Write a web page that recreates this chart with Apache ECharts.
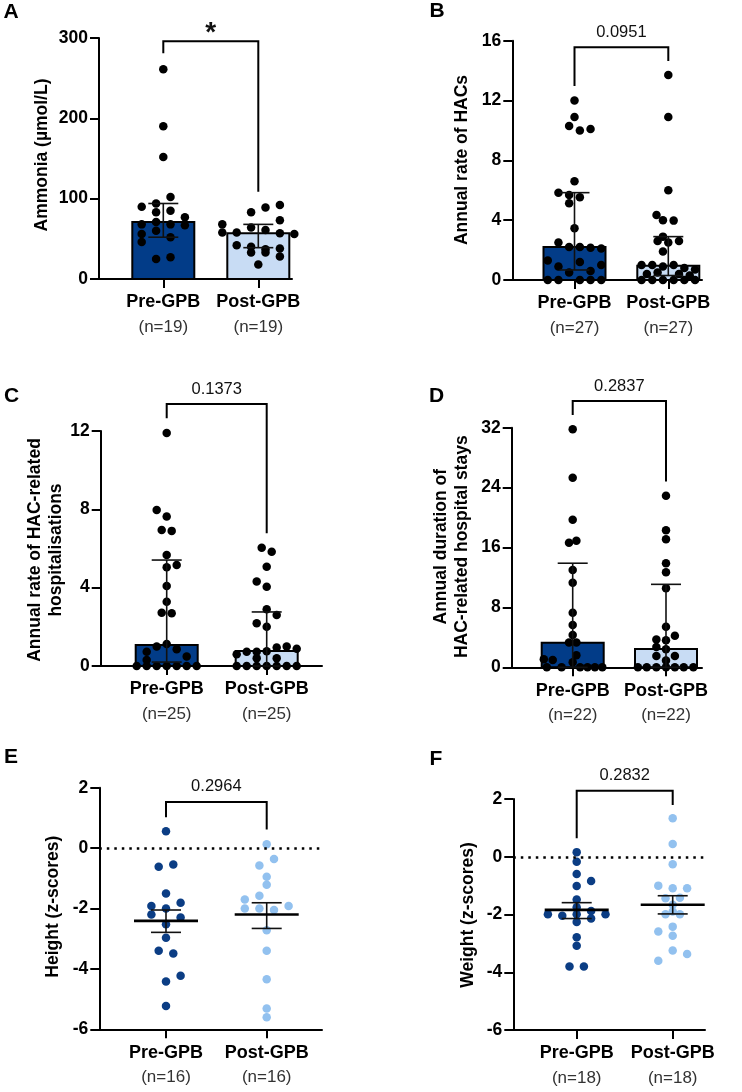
<!DOCTYPE html>
<html>
<head>
<meta charset="utf-8">
<script src="https://cdn.jsdelivr.net/npm/echarts@6/dist/echarts.min.js"></script>
<style>
  html, body { margin: 0; padding: 0; background: #fff; }
  #chart { width: 742px; height: 1092px; }
</style>
</head>
<body>
<div id="chart"></div>
<script>
const GROUPS = ['Pre-GPB', 'Post-GPB'];

// each point is [swarm column, value]

// A - ammonia
const ammoniaTicks = [0, 100, 200, 300];
const ammoniaN = [19, 19];
const ammoniaMedian = [71, 57];
const ammoniaIqr = [[52, 94], [39, 68]];
const ammoniaPre = [[0, 261], [0, 190], [0, 152], [0.5, 102], [-0.5, 94], [-1.5, 90], [-0.5, 83], [0.5, 85],
  [1.5, 77], [-1.5, 68], [-0.5, 71], [0.5, 68], [1.5, 67], [-0.5, 60], [0.5, 52], [-1.5, 46], [-1.5, 56],
  [-0.5, 25], [0.5, 27]];
const ammoniaPost = [[1.5, 92], [0.5, 89], [-0.5, 83], [1.5, 73], [-2.5, 68], [-0.5, 64], [0.5, 61], [-2.5, 58],
  [-1.5, 58], [1.5, 57], [2.5, 56], [-1.5, 42], [-0.5, 40], [1.5, 38], [0.5, 37], [-0.5, 33], [0.5, 33],
  [1.5, 28], [0, 18]];
const ammoniaBracket = [281, 296, 108.6];

// B - annual rate of HACs
const hacTicks = [0, 4, 8, 12, 16];
const hacN = [27, 27];
const hacMedian = [2.2, 0.96];
const hacIqr = [[0.67, 5.84], [0.3, 2.9]];
const hacPre = [[0, 12], [0, 10.9], [-0.5, 10.3], [0.5, 10.0], [1.5, 10.1], [0, 6.6], [-1.5, 5.84], [-0.5, 5.68],
  [0.5, 5.53], [-0.5, 5.13], [0, 3.46], [-1.5, 2.5], [-0.5, 2.2], [0.5, 2.2], [1.5, 2.15], [2.5, 2.1],
  [-2.5, 1.3], [-1.5, 0.9], [0.5, 1.2], [2.5, 1.0], [-0.5, 0.5], [1.5, 0.6], [-2.5, 0], [-1.5, 0], [0.5, 0],
  [1.5, 0], [2.5, 0]];
const hacPost = [[0, 13.7], [0, 10.9], [0, 6.0], [-1.1, 4.34], [-0.5, 4.0], [0.5, 3.97], [-0.5, 2.9], [-1, 2.6],
  [0, 2.5], [1, 2.6], [-0.5, 1.9], [-2.5, 1.0], [-1.5, 1.0], [-0.5, 0.9], [0.5, 1.0], [1.5, 0.8], [2.5, 0.7],
  [-2, 0.4], [-1, 0.5], [1, 0.4], [2, 0.3], [-2.5, 0], [-1.5, 0], [-0.5, 0], [0.5, 0], [1.5, 0], [2.5, 0]];
const hacBracket = [12.97, 15.56, 14.64];

// C - annual rate of HAC-related hospitalisations
const hospTicks = [0, 4, 8, 12];
const hospN = [25, 25];
const hospMedian = [1.07, 0.77];
const hospIqr = [[0.2, 5.41], [0, 2.76]];
const hospPre = [[0, 11.9], [-1, 7.97], [0, 7.63], [-0.5, 6.95], [0.5, 6.9], [0, 5.67], [0, 5.04], [1, 5.16],
  [0, 4.09], [0, 3.28], [-0.5, 2.72], [0.5, 2.69], [-2, 0.73], [-1, 0.99], [0, 1.12], [1, 0.85], [2, 0.48],
  [-2, 0.31], [-3, 0], [-2, 0], [-1, 0], [0, 0], [1, 0], [2, 0], [3, 0]];
const hospPost = [[-0.5, 6.04], [0.5, 5.84], [0, 5.07], [-1, 4.31], [0, 4.05], [0, 2.9], [1, 2.6], [-1, 2.18],
  [0, 2.0], [-2, 0.73], [-1, 0.73], [0, 0.75], [1, 0.95], [2, 0.99], [3, 0.88], [-1, 0.39], [1, 0.39],
  [-3, 0.6], [-3, 0], [-2, 0], [-1, 0], [0, 0], [1, 0], [2, 0], [3, 0]];
const hospBracket = [12.65, 13.38, 6.78];

// D - annual duration of HAC-related hospital stays
const stayTicks = [0, 8, 16, 24, 32];
const stayN = [22, 22];
const stayMedian = [3.28, 2.44];
const stayIqr = [[0, 13.9], [0, 11.08]];
const stayPre = [[0, 31.8], [0, 25.3], [0, 19.7], [-0.5, 16.65], [0.5, 16.9], [0, 13.0], [0, 11.3], [0, 7.3],
  [0, 5.65], [0, 4.31], [-0.5, 3.3], [0.5, 3.3], [-3.9, 1.07], [-2.7, 0.97], [0, 0.67], [0.5, 1.6],
  [-3.5, 0], [-1.5, 0], [1, 0], [2, 0], [3, 0], [4, 0]];
const stayPost = [[0, 22.9], [0, 18.3], [0, 17.1], [0, 13.9], [0, 12.7], [0, 10.55], [0, 5.4], [-1.3, 3.7],
  [0, 3.6], [1.2, 4.2], [-1.3, 2.7], [0, 2.4], [-1.3, 1.5], [1.2, 1.5], [0, 0.9], [-3.8, 0], [-2.6, 0],
  [-1.3, 0], [0, 0], [1.2, 0], [2.4, 0], [3.7, 0]];
const stayBracket = [33.7, 35.56, 24.8];

// E - height z-scores
const heightTicks = [-6, -4, -2, 0, 2];
const heightN = [16, 16];
const heightMean = [-2.41, -2.2];
const heightSem = [[-2.79, -2.05], [-2.66, -1.81]];
const heightPre = [[0, 0.56], [-1, -0.62], [1, -0.54], [0, -1.5], [-2, -1.92], [2, -1.81], [0, -2.0], [-2, -2.2],
  [2, -2.3], [0, -2.52], [0, -2.97], [-1, -3.4], [1, -3.49], [2, -4.23], [0, -4.42], [0, -5.23]];
const heightPost = [[0, 0.13], [1, -0.36], [-1, -0.58], [0, -0.95], [0, -1.21], [-1, -1.58], [-3, -1.7],
  [-3, -2.0], [-1, -2.0], [1, -2.05], [3, -1.92], [0, -2.72], [0, -3.4], [0, -4.34], [0, -5.31], [0, -5.6]];
const heightBracket = [1.02, 1.53, 0.62];

// F - weight z-scores
const weightTicks = [-6, -4, -2, 0, 2];
const weightN = [18, 18];
const weightMean = [-1.84, -1.66];
const weightSem = [[-2.14, -1.59], [-1.98, -1.35]];
const weightPre = [[0, 0.16], [0, -0.17], [0, -0.6], [2, -0.84], [0, -1.01], [0, -1.48], [-4, -1.99], [-2, -2.04],
  [0, -1.99], [2, -1.88], [4, -1.99], [2, -2.14], [0, -2.26], [0, -2.79], [0, -3.08], [-1, -3.8], [1, -3.8],
  [0, -1.75]];
const weightPost = [[0, 1.33], [0, 0.44], [0, -0.26], [-2, -1.0], [0, -1.09], [2, -1.09], [-1, -1.44], [1, -1.42],
  [0, -1.66], [-1, -1.99], [1, -1.99], [0, -2.42], [-2, -2.59], [0, -2.74], [0, -3.25], [2, -3.37], [-2, -3.6],
  [0, -1.9]];
const weightBracket = [0.64, 2.29, 1.79];

const pLabels = ['*', '0.0951', '0.1373', '0.2837', '0.2964', '0.2832'];

const FONT = '"Liberation Sans", Arial, sans-serif';
const DARK = '#023c88';
const LIGHT = '#c8dcf4';
const DOT_DARK = '#0b3d84';
const DOT_LIGHT = '#92c1ef';

const panels = [
  { ticks: ammoniaTicks, n: ammoniaN, center: ammoniaMedian, err: ammoniaIqr, pre: ammoniaPre, post: ammoniaPost,
    bracket: ammoniaBracket, p: pLabels[0], bars: true,
    lay: { left: 99, top: 38, height: 241, right: 292, pre: 163.3, post: 258.3, step: 14.4 } },
  { ticks: hacTicks, n: hacN, center: hacMedian, err: hacIqr, pre: hacPre, post: hacPost,
    bracket: hacBracket, p: pLabels[1], bars: true,
    lay: { left: 512.3, top: 40.7, height: 239.3, right: 702, pre: 574.5, post: 668.3, step: 10.7 } },
  { ticks: hospTicks, n: hospN, center: hospMedian, err: hospIqr, pre: hospPre, post: hospPost,
    bracket: hospBracket, p: pLabels[2], bars: true,
    lay: { left: 100.7, top: 431, height: 235, right: 322, pre: 166.7, post: 266.7, step: 10 } },
  { ticks: stayTicks, n: stayN, center: stayMedian, err: stayIqr, pre: stayPre, post: stayPost,
    bracket: stayBracket, p: pLabels[3], bars: true,
    lay: { left: 511.7, top: 427.7, height: 239.6, right: 702, pre: 572.7, post: 666, step: 7.4 } },
  { ticks: heightTicks, n: heightN, center: heightMean, err: heightSem, pre: heightPre, post: heightPost,
    bracket: heightBracket, p: pLabels[4], bars: false,
    lay: { left: 99.3, top: 787.7, height: 241.6, right: 322, pre: 166, post: 266.7, step: 7.3 } },
  { ticks: weightTicks, n: weightN, center: weightMean, err: weightSem, pre: weightPre, post: weightPost,
    bracket: weightBracket, p: pLabels[5], bars: false,
    lay: { left: 513.3, top: 799, height: 231, right: 705, pre: 576.7, post: 672.7, step: 7.2 } }
];

const AXIS_LINE = { color: '#000', width: 2 };
const grids = [], xAxes = [], yAxes = [], series = [];

panels.forEach(function (d, i) {
  const L = d.lay;
  const span = L.post - L.pre;
  grids.push({ left: L.left, top: L.top, width: L.right - L.left, height: L.height });
  xAxes.push({
    gridIndex: i, type: 'value',
    min: (L.left - L.pre) / span, max: (L.right - L.pre) / span,
    axisLine: { show: true, onZero: false, lineStyle: AXIS_LINE },
    axisTick: { show: true, customValues: [0, 1], length: 9, lineStyle: AXIS_LINE },
    axisLabel: {
      show: true, customValues: [0, 1], margin: 12,
      formatter: function (v) {
        const g = Math.round(v);
        return '{a|' + GROUPS[g] + '}\n{b|(n=' + d.n[g] + ')}';
      },
      rich: {
        a: { fontFamily: FONT, fontWeight: 'bold', fontSize: 18, color: '#000', lineHeight: 23 },
        b: { fontFamily: FONT, fontSize: 17, color: '#333', lineHeight: 27 }
      }
    },
    splitLine: { show: false }
  });
  const t = d.ticks;
  yAxes.push({
    gridIndex: i, type: 'value',
    min: t[0], max: t[t.length - 1], interval: t[1] - t[0],
    axisLine: { show: true, onZero: false, lineStyle: AXIS_LINE },
    axisTick: { show: true, length: 9, lineStyle: AXIS_LINE },
    axisLabel: { fontFamily: FONT, fontWeight: 'bold', fontSize: 17.5, color: '#000', margin: 11 },
    splitLine: { show: false }
  });

  if (d.bars) {
    series.push({
      type: 'custom', xAxisIndex: i, yAxisIndex: i, z: 1, clip: false,
      data: d.center.map(function (v, g) { return [g, v]; }),
      renderItem: function (params, api) {
        const top = api.coord([api.value(0), api.value(1)]);
        const base = api.coord([api.value(0), 0]);
        return {
          type: 'rect',
          shape: { x: top[0] - 31, y: top[1], width: 62, height: base[1] - top[1] },
          style: { fill: params.dataIndex === 0 ? DARK : LIGHT, stroke: '#000', lineWidth: 2 }
        };
      }
    });
  }

  [d.pre, d.post].forEach(function (pts, g) {
    const s = {
      type: 'scatter', xAxisIndex: i, yAxisIndex: i, z: 3,
      symbol: 'circle', symbolSize: 8.5,
      itemStyle: { color: d.bars ? '#000' : (g === 0 ? DOT_DARK : DOT_LIGHT), opacity: 1 },
      data: pts.map(function (p) { return { value: [g, p[1]], symbolOffset: [p[0] * L.step, 0] }; })
    };
    if (!d.bars && g === 0) {
      s.markLine = {
        silent: true, symbol: 'none', label: { show: false },
        lineStyle: { color: '#000', width: 2.5, type: [2.5, 5] },
        data: [{ yAxis: 0 }]
      };
    }
    series.push(s);
  });

  series.push({
    type: 'custom', xAxisIndex: i, yAxisIndex: i, z: 4, clip: false,
    data: d.err.map(function (e, g) { return [g, e[0], e[1], d.center[g]]; }),
    renderItem: function (params, api) {
      const x = api.value(0);
      const lo = api.coord([x, api.value(1)]);
      const hi = api.coord([x, api.value(2)]);
      const mid = api.coord([x, api.value(3)]);
      const ls = { stroke: '#111', lineWidth: 1.6 };
      const kids = [
        { type: 'line', shape: { x1: lo[0], y1: lo[1], x2: hi[0], y2: hi[1] }, style: ls },
        { type: 'line', shape: { x1: lo[0] - 15, y1: lo[1], x2: lo[0] + 15, y2: lo[1] }, style: ls },
        { type: 'line', shape: { x1: hi[0] - 15, y1: hi[1], x2: hi[0] + 15, y2: hi[1] }, style: ls }
      ];
      if (!d.bars) {
        kids.push({ type: 'line', shape: { x1: mid[0] - 32, y1: mid[1], x2: mid[0] + 32, y2: mid[1] },
          style: { stroke: '#000', lineWidth: 2.6 } });
      }
      return { type: 'group', children: kids };
    }
  });

  series.push({
    type: 'custom', xAxisIndex: i, yAxisIndex: i, z: 5, clip: false,
    data: [d.bracket],
    renderItem: function (params, api) {
      const a = api.coord([0, api.value(0)]);
      const top = api.coord([0, api.value(1)]);
      const b = api.coord([1, api.value(2)]);
      const star = d.p === '*';
      return {
        type: 'group',
        children: [
          { type: 'polyline', shape: { points: [[a[0], a[1]], [a[0], top[1]], [b[0], top[1]], [b[0], b[1]]] },
            style: { stroke: '#000', lineWidth: 2, fill: null } },
          { type: 'text', x: (a[0] + b[0]) / 2, y: top[1] - (star ? 8 : 15),
            style: { text: d.p, fontFamily: FONT, fontSize: star ? 28 : 16.5, fontWeight: star ? 'bold' : 'normal',
              fill: '#111', align: 'center', verticalAlign: 'middle' } }
        ]
      };
    }
  });
});

function letter(txt, x, y) {
  return { type: 'text', x: x, y: y,
    style: { text: txt, fontFamily: FONT, fontWeight: 'bold', fontSize: 21, fill: '#000', align: 'center', verticalAlign: 'middle' } };
}
function yTitle(txt, x, y) {
  return { type: 'text', x: x, y: y, rotation: Math.PI / 2,
    style: { text: txt, fontFamily: FONT, fontWeight: 'bold', fontSize: 17.5, lineHeight: 21, fill: '#000',
      align: 'center', verticalAlign: 'middle' } };
}

const chart = echarts.init(document.getElementById('chart'));
chart.setOption({
  animation: false,
  backgroundColor: '#fff',
  grid: grids,
  xAxis: xAxes,
  yAxis: yAxes,
  series: series,
  graphic: [
    letter('A', 11, 12.5), letter('B', 437, 11.5), letter('C', 11.5, 396.5),
    letter('D', 436.5, 396.5), letter('E', 11, 757.5), letter('F', 436, 759),
    yTitle('Ammonia (µmol/L)', 41.7, 155),
    yTitle('Annual rate of HACs', 461.7, 160),
    yTitle('Annual rate of HAC-related\nhospitalisations', 45.5, 550),
    yTitle('Annual duration of\nHAC-related hospital stays', 452, 546.7),
    yTitle('Height (z-scores)', 53.3, 906.7),
    yTitle('Weight (z-scores)', 468.3, 915)
  ]
});
</script>
</body>
</html>
